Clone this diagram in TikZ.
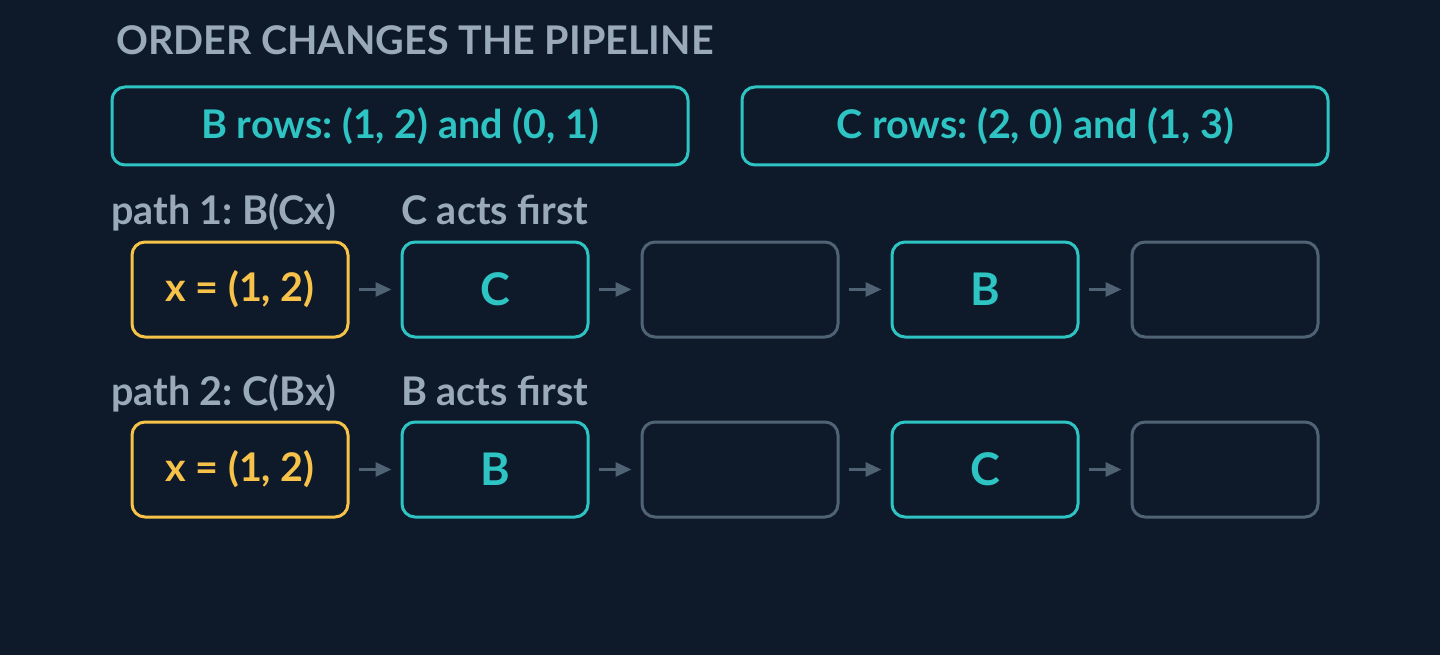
\documentclass[tikz,border=0pt]{standalone}
\usepackage{fontspec}
\setmainfont{Lato}
\usetikzlibrary{arrows.meta}
\definecolor{bgnavy}{HTML}{0E1A29}
\definecolor{tealc}{HTML}{2EC4C4}
\definecolor{yellowc}{HTML}{F6C24A}
\definecolor{greyc}{HTML}{9AAAB9}
\definecolor{dimc}{HTML}{506375}
\frenchspacing
\begin{document}
\begin{tikzpicture}[x=1pt,y=-1pt,
    rowbox/.style={draw, rounded corners=13pt, line width=3pt, minimum height=95pt, inner sep=0pt, font=\bfseries\fontsize{39.5}{45}\selectfont},
    opbox/.style={rowbox, tealc, text=tealc, minimum width=186pt, font=\bfseries\fontsize{45}{52}\selectfont},
    inbox/.style={rowbox, yellowc, text=yellowc, minimum width=216pt},
    emptybox/.style={rowbox, dimc, minimum width=196pt},
    rowsbox/.style={draw=tealc, text=tealc, rounded corners=13pt, line width=3pt, minimum height=78pt, inner sep=0pt, font=\bfseries\fontsize{39.5}{45}\selectfont},
    lbl/.style={text=greyc, anchor=base west, inner sep=0pt, font=\bfseries\fontsize{39.5}{45}\selectfont},
    flow/.style={draw=dimc, line width=3pt, -{Triangle[length=16pt,width=14pt]}, shorten <=9pt, shorten >=9pt}]

    % background
    \fill[bgnavy] (0,0) rectangle (1440,655);
    \useasboundingbox (0,0) rectangle (1440,655);

    \node[lbl] (title) at (116,55) {ORDER CHANGES THE PIPELINE};

    \node[rowsbox, minimum width=576pt] (brows) at (400,126) {B rows: (1, 2) and (0, 1)};
    \node[rowsbox, minimum width=586pt] (crows) at (1035,126) {C rows: (2, 0) and (1, 3)};

    % path 1
    \node[lbl] (p1) at (111,225) {path 1: B(Cx)};
    \node[lbl] (p1note) at (401,225) {C acts first};
    \node[inbox] (x1) at (240,289.5) {x = (1, 2)};
    \node[opbox] (c1) at (495,289.5) {C};
    \node[emptybox] (e1) at (740,289.5) {};
    \node[opbox] (b1) at (985,289.5) {B};
    \node[emptybox, minimum width=186pt] (f1) at (1225,289.5) {};
    \draw[flow] (x1) -- (c1);
    \draw[flow] (c1) -- (e1);
    \draw[flow] (e1) -- (b1);
    \draw[flow] (b1) -- (f1);

    % path 2
    \node[lbl] (p2) at (111,405) {path 2: C(Bx)};
    \node[lbl] (p2note) at (401,405) {B acts first};
    \node[inbox] (x2) at (240,469.5) {x = (1, 2)};
    \node[opbox] (b2) at (495,469.5) {B};
    \node[emptybox] (e2) at (740,469.5) {};
    \node[opbox] (c2) at (985,469.5) {C};
    \node[emptybox, minimum width=186pt] (f2) at (1225,469.5) {};
    \draw[flow] (x2) -- (b2);
    \draw[flow] (b2) -- (e2);
    \draw[flow] (e2) -- (c2);
    \draw[flow] (c2) -- (f2);
\end{tikzpicture}
\end{document}
